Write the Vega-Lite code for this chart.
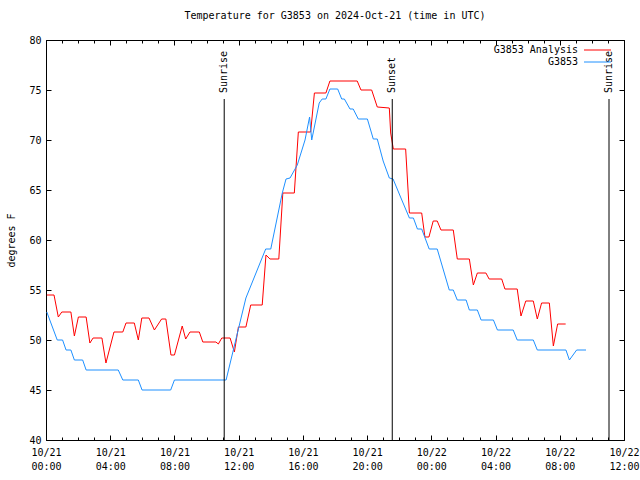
{
  "$schema": "https://vega.github.io/schema/vega-lite/v6.json",
  "width": 578,
  "height": 400,
  "autosize": {"type": "none"},
  "padding": {"left": 46, "top": 40, "right": 16, "bottom": 40},
  "background": "white",
  "config": {
    "font": "DejaVu Sans Mono",
    "view": {"stroke": "black", "strokeWidth": 1},
    "axis": {"labelFont": "DejaVu Sans Mono", "labelFontSize": 10, "labelColor": "black", "tickColor": "black", "titleFont": "DejaVu Sans Mono", "titleFontSize": 10, "titleFontWeight": "normal", "titleColor": "black", "grid": false, "domain": false}
  },
  "title": {"text": "Temperature for G3853 on 2024-Oct-21 (time in UTC)", "font": "DejaVu Sans Mono", "fontSize": 10, "fontWeight": "normal", "color": "black", "offset": 14, "anchor": "middle"},
  "datasets": {
    "obs": [
      {"time": "2024-10-21T00:03:00Z", "temp": 54.5, "series": "G3853 Analysis"},
      {"time": "2024-10-21T00:30:00Z", "temp": 54.5, "series": "G3853 Analysis"},
      {"time": "2024-10-21T00:46:00Z", "temp": 52.3, "series": "G3853 Analysis"},
      {"time": "2024-10-21T00:59:00Z", "temp": 52.8, "series": "G3853 Analysis"},
      {"time": "2024-10-21T01:33:00Z", "temp": 52.8, "series": "G3853 Analysis"},
      {"time": "2024-10-21T01:46:00Z", "temp": 50.4, "series": "G3853 Analysis"},
      {"time": "2024-10-21T02:01:00Z", "temp": 52.3, "series": "G3853 Analysis"},
      {"time": "2024-10-21T02:30:00Z", "temp": 52.3, "series": "G3853 Analysis"},
      {"time": "2024-10-21T02:44:00Z", "temp": 49.7, "series": "G3853 Analysis"},
      {"time": "2024-10-21T02:56:00Z", "temp": 50.2, "series": "G3853 Analysis"},
      {"time": "2024-10-21T03:29:00Z", "temp": 50.2, "series": "G3853 Analysis"},
      {"time": "2024-10-21T03:44:00Z", "temp": 47.7, "series": "G3853 Analysis"},
      {"time": "2024-10-21T04:14:00Z", "temp": 50.8, "series": "G3853 Analysis"},
      {"time": "2024-10-21T04:47:00Z", "temp": 50.8, "series": "G3853 Analysis"},
      {"time": "2024-10-21T04:59:00Z", "temp": 51.7, "series": "G3853 Analysis"},
      {"time": "2024-10-21T05:30:00Z", "temp": 51.7, "series": "G3853 Analysis"},
      {"time": "2024-10-21T05:45:00Z", "temp": 50.0, "series": "G3853 Analysis"},
      {"time": "2024-10-21T05:58:00Z", "temp": 52.2, "series": "G3853 Analysis"},
      {"time": "2024-10-21T06:25:00Z", "temp": 52.2, "series": "G3853 Analysis"},
      {"time": "2024-10-21T06:45:00Z", "temp": 51.0, "series": "G3853 Analysis"},
      {"time": "2024-10-21T07:12:00Z", "temp": 52.1, "series": "G3853 Analysis"},
      {"time": "2024-10-21T07:28:00Z", "temp": 52.1, "series": "G3853 Analysis"},
      {"time": "2024-10-21T07:47:00Z", "temp": 48.5, "series": "G3853 Analysis"},
      {"time": "2024-10-21T08:00:00Z", "temp": 48.5, "series": "G3853 Analysis"},
      {"time": "2024-10-21T08:29:00Z", "temp": 51.4, "series": "G3853 Analysis"},
      {"time": "2024-10-21T08:42:00Z", "temp": 50.1, "series": "G3853 Analysis"},
      {"time": "2024-10-21T08:58:00Z", "temp": 50.8, "series": "G3853 Analysis"},
      {"time": "2024-10-21T09:33:00Z", "temp": 50.8, "series": "G3853 Analysis"},
      {"time": "2024-10-21T09:46:00Z", "temp": 49.8, "series": "G3853 Analysis"},
      {"time": "2024-10-21T10:35:00Z", "temp": 49.8, "series": "G3853 Analysis"},
      {"time": "2024-10-21T10:44:00Z", "temp": 49.6, "series": "G3853 Analysis"},
      {"time": "2024-10-21T10:57:00Z", "temp": 50.2, "series": "G3853 Analysis"},
      {"time": "2024-10-21T11:28:00Z", "temp": 50.2, "series": "G3853 Analysis"},
      {"time": "2024-10-21T11:44:00Z", "temp": 48.8, "series": "G3853 Analysis"},
      {"time": "2024-10-21T11:59:00Z", "temp": 51.3, "series": "G3853 Analysis"},
      {"time": "2024-10-21T12:27:00Z", "temp": 51.3, "series": "G3853 Analysis"},
      {"time": "2024-10-21T12:45:00Z", "temp": 53.5, "series": "G3853 Analysis"},
      {"time": "2024-10-21T13:28:00Z", "temp": 53.5, "series": "G3853 Analysis"},
      {"time": "2024-10-21T13:42:00Z", "temp": 58.5, "series": "G3853 Analysis"},
      {"time": "2024-10-21T13:57:00Z", "temp": 58.1, "series": "G3853 Analysis"},
      {"time": "2024-10-21T14:30:00Z", "temp": 58.1, "series": "G3853 Analysis"},
      {"time": "2024-10-21T14:45:00Z", "temp": 64.7, "series": "G3853 Analysis"},
      {"time": "2024-10-21T15:28:00Z", "temp": 64.7, "series": "G3853 Analysis"},
      {"time": "2024-10-21T15:43:00Z", "temp": 70.8, "series": "G3853 Analysis"},
      {"time": "2024-10-21T16:29:00Z", "temp": 70.8, "series": "G3853 Analysis"},
      {"time": "2024-10-21T16:43:00Z", "temp": 74.7, "series": "G3853 Analysis"},
      {"time": "2024-10-21T17:26:00Z", "temp": 74.7, "series": "G3853 Analysis"},
      {"time": "2024-10-21T17:41:00Z", "temp": 75.9, "series": "G3853 Analysis"},
      {"time": "2024-10-21T19:23:00Z", "temp": 75.9, "series": "G3853 Analysis"},
      {"time": "2024-10-21T19:37:00Z", "temp": 75.0, "series": "G3853 Analysis"},
      {"time": "2024-10-21T20:17:00Z", "temp": 75.0, "series": "G3853 Analysis"},
      {"time": "2024-10-21T20:38:00Z", "temp": 73.3, "series": "G3853 Analysis"},
      {"time": "2024-10-21T21:23:00Z", "temp": 73.2, "series": "G3853 Analysis"},
      {"time": "2024-10-21T21:28:00Z", "temp": 70.7, "series": "G3853 Analysis"},
      {"time": "2024-10-21T21:38:00Z", "temp": 69.1, "series": "G3853 Analysis"},
      {"time": "2024-10-21T22:24:00Z", "temp": 69.1, "series": "G3853 Analysis"},
      {"time": "2024-10-21T22:38:00Z", "temp": 62.7, "series": "G3853 Analysis"},
      {"time": "2024-10-21T23:24:00Z", "temp": 62.7, "series": "G3853 Analysis"},
      {"time": "2024-10-21T23:36:00Z", "temp": 60.3, "series": "G3853 Analysis"},
      {"time": "2024-10-21T23:51:00Z", "temp": 60.3, "series": "G3853 Analysis"},
      {"time": "2024-10-22T00:07:00Z", "temp": 61.9, "series": "G3853 Analysis"},
      {"time": "2024-10-22T00:22:00Z", "temp": 61.9, "series": "G3853 Analysis"},
      {"time": "2024-10-22T00:36:00Z", "temp": 61.0, "series": "G3853 Analysis"},
      {"time": "2024-10-22T01:22:00Z", "temp": 61.0, "series": "G3853 Analysis"},
      {"time": "2024-10-22T01:37:00Z", "temp": 58.1, "series": "G3853 Analysis"},
      {"time": "2024-10-22T02:22:00Z", "temp": 58.1, "series": "G3853 Analysis"},
      {"time": "2024-10-22T02:37:00Z", "temp": 55.5, "series": "G3853 Analysis"},
      {"time": "2024-10-22T02:52:00Z", "temp": 56.7, "series": "G3853 Analysis"},
      {"time": "2024-10-22T03:24:00Z", "temp": 56.7, "series": "G3853 Analysis"},
      {"time": "2024-10-22T03:36:00Z", "temp": 56.1, "series": "G3853 Analysis"},
      {"time": "2024-10-22T04:23:00Z", "temp": 56.1, "series": "G3853 Analysis"},
      {"time": "2024-10-22T04:35:00Z", "temp": 55.1, "series": "G3853 Analysis"},
      {"time": "2024-10-22T05:21:00Z", "temp": 55.1, "series": "G3853 Analysis"},
      {"time": "2024-10-22T05:35:00Z", "temp": 52.4, "series": "G3853 Analysis"},
      {"time": "2024-10-22T05:53:00Z", "temp": 53.9, "series": "G3853 Analysis"},
      {"time": "2024-10-22T06:21:00Z", "temp": 53.9, "series": "G3853 Analysis"},
      {"time": "2024-10-22T06:36:00Z", "temp": 52.1, "series": "G3853 Analysis"},
      {"time": "2024-10-22T06:52:00Z", "temp": 53.7, "series": "G3853 Analysis"},
      {"time": "2024-10-22T07:21:00Z", "temp": 53.7, "series": "G3853 Analysis"},
      {"time": "2024-10-22T07:36:00Z", "temp": 49.4, "series": "G3853 Analysis"},
      {"time": "2024-10-22T07:52:00Z", "temp": 51.6, "series": "G3853 Analysis"},
      {"time": "2024-10-22T08:22:00Z", "temp": 51.6, "series": "G3853 Analysis"},
      {"time": "2024-10-21T00:03:00Z", "temp": 52.8, "series": "G3853"},
      {"time": "2024-10-21T00:42:00Z", "temp": 50.0, "series": "G3853"},
      {"time": "2024-10-21T01:02:00Z", "temp": 50.0, "series": "G3853"},
      {"time": "2024-10-21T01:15:00Z", "temp": 49.0, "series": "G3853"},
      {"time": "2024-10-21T01:33:00Z", "temp": 49.0, "series": "G3853"},
      {"time": "2024-10-21T01:46:00Z", "temp": 48.0, "series": "G3853"},
      {"time": "2024-10-21T02:17:00Z", "temp": 48.0, "series": "G3853"},
      {"time": "2024-10-21T02:30:00Z", "temp": 47.0, "series": "G3853"},
      {"time": "2024-10-21T04:30:00Z", "temp": 47.0, "series": "G3853"},
      {"time": "2024-10-21T04:47:00Z", "temp": 46.0, "series": "G3853"},
      {"time": "2024-10-21T05:45:00Z", "temp": 46.0, "series": "G3853"},
      {"time": "2024-10-21T05:59:00Z", "temp": 45.0, "series": "G3853"},
      {"time": "2024-10-21T07:46:00Z", "temp": 45.0, "series": "G3853"},
      {"time": "2024-10-21T08:00:00Z", "temp": 46.0, "series": "G3853"},
      {"time": "2024-10-21T11:13:00Z", "temp": 46.0, "series": "G3853"},
      {"time": "2024-10-21T12:27:00Z", "temp": 54.2, "series": "G3853"},
      {"time": "2024-10-21T13:41:00Z", "temp": 59.1, "series": "G3853"},
      {"time": "2024-10-21T14:00:00Z", "temp": 59.1, "series": "G3853"},
      {"time": "2024-10-21T14:43:00Z", "temp": 64.7, "series": "G3853"},
      {"time": "2024-10-21T14:57:00Z", "temp": 66.1, "series": "G3853"},
      {"time": "2024-10-21T15:12:00Z", "temp": 66.2, "series": "G3853"},
      {"time": "2024-10-21T15:39:00Z", "temp": 67.5, "series": "G3853"},
      {"time": "2024-10-21T16:08:00Z", "temp": 70.0, "series": "G3853"},
      {"time": "2024-10-21T16:25:00Z", "temp": 72.3, "series": "G3853"},
      {"time": "2024-10-21T16:33:00Z", "temp": 70.0, "series": "G3853"},
      {"time": "2024-10-21T17:01:00Z", "temp": 73.7, "series": "G3853"},
      {"time": "2024-10-21T17:12:00Z", "temp": 74.1, "series": "G3853"},
      {"time": "2024-10-21T17:26:00Z", "temp": 74.1, "series": "G3853"},
      {"time": "2024-10-21T17:41:00Z", "temp": 75.1, "series": "G3853"},
      {"time": "2024-10-21T18:10:00Z", "temp": 75.1, "series": "G3853"},
      {"time": "2024-10-21T18:25:00Z", "temp": 74.1, "series": "G3853"},
      {"time": "2024-10-21T18:35:00Z", "temp": 74.1, "series": "G3853"},
      {"time": "2024-10-21T18:56:00Z", "temp": 73.1, "series": "G3853"},
      {"time": "2024-10-21T19:08:00Z", "temp": 73.1, "series": "G3853"},
      {"time": "2024-10-21T19:27:00Z", "temp": 72.1, "series": "G3853"},
      {"time": "2024-10-21T20:01:00Z", "temp": 72.1, "series": "G3853"},
      {"time": "2024-10-21T20:23:00Z", "temp": 70.1, "series": "G3853"},
      {"time": "2024-10-21T20:38:00Z", "temp": 70.1, "series": "G3853"},
      {"time": "2024-10-21T21:00:00Z", "temp": 67.9, "series": "G3853"},
      {"time": "2024-10-21T21:23:00Z", "temp": 66.2, "series": "G3853"},
      {"time": "2024-10-21T21:37:00Z", "temp": 66.1, "series": "G3853"},
      {"time": "2024-10-21T22:05:00Z", "temp": 64.3, "series": "G3853"},
      {"time": "2024-10-21T22:38:00Z", "temp": 62.2, "series": "G3853"},
      {"time": "2024-10-21T22:53:00Z", "temp": 62.2, "series": "G3853"},
      {"time": "2024-10-21T23:08:00Z", "temp": 61.1, "series": "G3853"},
      {"time": "2024-10-21T23:24:00Z", "temp": 61.1, "series": "G3853"},
      {"time": "2024-10-21T23:52:00Z", "temp": 59.1, "series": "G3853"},
      {"time": "2024-10-22T00:22:00Z", "temp": 59.1, "series": "G3853"},
      {"time": "2024-10-22T01:07:00Z", "temp": 55.0, "series": "G3853"},
      {"time": "2024-10-22T01:22:00Z", "temp": 55.0, "series": "G3853"},
      {"time": "2024-10-22T01:37:00Z", "temp": 54.0, "series": "G3853"},
      {"time": "2024-10-22T02:10:00Z", "temp": 54.0, "series": "G3853"},
      {"time": "2024-10-22T02:22:00Z", "temp": 53.0, "series": "G3853"},
      {"time": "2024-10-22T02:52:00Z", "temp": 53.0, "series": "G3853"},
      {"time": "2024-10-22T03:06:00Z", "temp": 52.0, "series": "G3853"},
      {"time": "2024-10-22T03:52:00Z", "temp": 52.0, "series": "G3853"},
      {"time": "2024-10-22T04:07:00Z", "temp": 51.0, "series": "G3853"},
      {"time": "2024-10-22T05:06:00Z", "temp": 51.0, "series": "G3853"},
      {"time": "2024-10-22T05:21:00Z", "temp": 50.0, "series": "G3853"},
      {"time": "2024-10-22T06:21:00Z", "temp": 50.0, "series": "G3853"},
      {"time": "2024-10-22T06:36:00Z", "temp": 49.0, "series": "G3853"},
      {"time": "2024-10-22T08:23:00Z", "temp": 49.0, "series": "G3853"},
      {"time": "2024-10-22T08:36:00Z", "temp": 48.0, "series": "G3853"},
      {"time": "2024-10-22T09:03:00Z", "temp": 49.0, "series": "G3853"},
      {"time": "2024-10-22T09:38:00Z", "temp": 49.0, "series": "G3853"}
    ],
    "sun": [
      {"time": "2024-10-21T11:06:00Z", "label": "Sunrise"},
      {"time": "2024-10-21T21:34:00Z", "label": "Sunset"},
      {"time": "2024-10-22T11:04:00Z", "label": "Sunrise"}
    ]
  },
  "resolve": {"axis": {"x": "independent", "y": "independent"}},
  "layer": [
    {
      "data": {"name": "obs"},
      "mark": {"type": "line", "strokeWidth": 1, "interpolate": "linear"},
      "encoding": {
        "x": {"field": "time", "type": "temporal",
          "scale": {"type": "utc", "domain": [1729468800000, 1729598400000], "nice": false},
          "axis": {"orient": "bottom", "title": null, "values": [1729468800000, 1729483200000, 1729497600000, 1729512000000, 1729526400000, 1729540800000, 1729555200000, 1729569600000, 1729584000000, 1729598400000],
            "labelExpr": "[utcFormat(datum.value, '%m/%d'), utcFormat(datum.value, '%H:%M')]",
            "tickSize": -5, "labelPadding": 12, "labelBaseline": "top", "labelLineHeight": 14, "labelAlign": "center", "labelFlush": false, "labelOverlap": false}},
        "y": {"field": "temp", "type": "quantitative",
          "scale": {"domain": [40, 80], "nice": false, "zero": false},
          "axis": {"orient": "left", "title": "degrees F", "values": [40, 45, 50, 55, 60, 65, 70, 75, 80], "tickSize": -5, "labelPadding": 10, "titlePadding": 12}},
        "color": {"field": "series", "type": "nominal",
          "scale": {"domain": ["G3853 Analysis", "G3853"], "range": ["#ff0000", "#1e90ff"]},
          "legend": {"title": null, "orient": "none", "legendX": 533, "legendY": 5, "padding": 0,
            "symbolType": "M0,0H9", "symbolSize": 36, "symbolStrokeWidth": 1,
            "labelAlign": "right", "labelOffset": -11, "labelFont": "DejaVu Sans Mono", "labelFontSize": 10, "labelColor": "black", "rowPadding": 2}}
      }
    },
    {
      "data": {"name": "sun"},
      "mark": {"type": "rule", "color": "black", "strokeWidth": 1},
      "encoding": {
        "x": {"field": "time", "type": "temporal",
          "scale": {"type": "utc", "domain": [1729468800000, 1729598400000], "nice": false},
          "axis": {"orient": "bottom", "title": null, "labels": false, "tickSize": -3, "values": [1729468800000, 1729472400000, 1729476000000, 1729479600000, 1729483200000, 1729486800000, 1729490400000, 1729494000000, 1729497600000, 1729501200000, 1729504800000, 1729508400000, 1729512000000, 1729515600000, 1729519200000, 1729522800000, 1729526400000, 1729530000000, 1729533600000, 1729537200000, 1729540800000, 1729544400000, 1729548000000, 1729551600000, 1729555200000, 1729558800000, 1729562400000, 1729566000000, 1729569600000, 1729573200000, 1729576800000, 1729580400000, 1729584000000, 1729587600000, 1729591200000, 1729594800000, 1729598400000]}},
        "y": {"datum": 40, "type": "quantitative",
          "axis": {"orient": "right", "title": null, "labels": false, "values": [40, 45, 50, 55, 60, 65, 70, 75, 80], "tickSize": -5}},
        "y2": {"datum": 74.1}
      }
    },
    {
      "data": {"name": "sun"},
      "transform": [{"filter": "datum.label === 'Sunrise'"}],
      "mark": {"type": "text", "angle": 270, "align": "left", "baseline": "middle", "font": "DejaVu Sans Mono", "fontSize": 10, "color": "black"},
      "encoding": {
        "x": {"field": "time", "type": "temporal",
          "scale": {"type": "utc", "domain": [1729468800000, 1729598400000], "nice": false},
          "axis": {"orient": "top", "title": null, "labels": false, "tickSize": -5, "values": [1729468800000, 1729483200000, 1729497600000, 1729512000000, 1729526400000, 1729540800000, 1729555200000, 1729569600000, 1729584000000, 1729598400000]}},
        "y": {"datum": 74.7, "type": "quantitative", "axis": null},
        "text": {"field": "label"}
      }
    },
    {
      "data": {"name": "sun"},
      "transform": [{"filter": "datum.label === 'Sunset'"}],
      "mark": {"type": "text", "angle": 270, "align": "left", "baseline": "middle", "font": "DejaVu Sans Mono", "fontSize": 10, "color": "black"},
      "encoding": {
        "x": {"field": "time", "type": "temporal",
          "scale": {"type": "utc", "domain": [1729468800000, 1729598400000], "nice": false},
          "axis": {"orient": "top", "title": null, "labels": false, "tickSize": -3, "values": [1729468800000, 1729472400000, 1729476000000, 1729479600000, 1729483200000, 1729486800000, 1729490400000, 1729494000000, 1729497600000, 1729501200000, 1729504800000, 1729508400000, 1729512000000, 1729515600000, 1729519200000, 1729522800000, 1729526400000, 1729530000000, 1729533600000, 1729537200000, 1729540800000, 1729544400000, 1729548000000, 1729551600000, 1729555200000, 1729558800000, 1729562400000, 1729566000000, 1729569600000, 1729573200000, 1729576800000, 1729580400000, 1729584000000, 1729587600000, 1729591200000, 1729594800000, 1729598400000]}},
        "y": {"datum": 74.7, "type": "quantitative", "axis": null},
        "text": {"field": "label"}
      }
    }
  ]
}
